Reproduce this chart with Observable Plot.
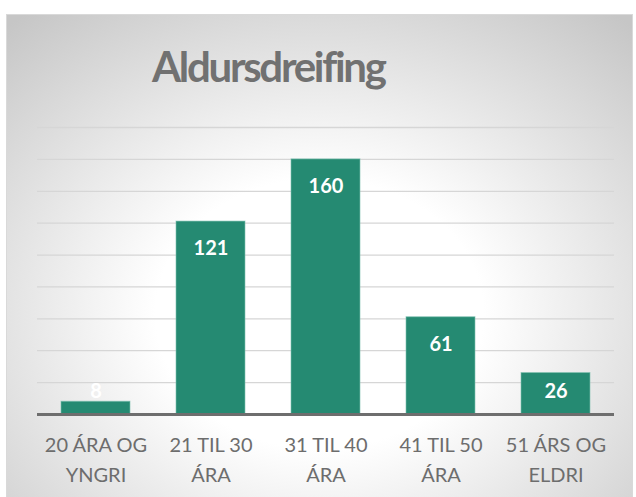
<!DOCTYPE html>
<html>
<head>
<meta charset="utf-8">
<script src="https://cdn.jsdelivr.net/npm/d3@7"></script>
<script src="https://cdn.jsdelivr.net/npm/@observablehq/plot@0.6"></script>
<style>
  html, body { margin: 0; padding: 0; background: #ffffff; }
  #frame {
    position: absolute; left: 6px; top: 14px; width: 625px; height: 482px;
    border: 1px solid #d9d9d9;
    background: radial-gradient(ellipse 75% 80% at 50% 62%, #ffffff 0%, #ffffff 35%, #c6c6c6 100%);
  }
  #wrap { position: absolute; left: 0; top: 0; width: 636px; height: 497px; }
  #title {
    height: 110px; width: 636px; text-align: left;
    font-family: Lato, sans-serif; font-weight: 700; font-size: 42px; color: #717171;
    line-height: 1; box-sizing: border-box; white-space: nowrap;
  }
  #title span { display: inline-block; margin-top: 45px; margin-left: 152px; letter-spacing: -2.3px; }
  svg { display: block; }
</style>
</head>
<body>
<div id="frame"></div>
<div id="wrap">
  <div id="title"><span>Aldursdreifing</span></div>
  <div id="chart"></div>
</div>
<script>
const categories = ["20 ÁRA OG YNGRI", "21 TIL 30 ÁRA", "31 TIL 40 ÁRA", "41 TIL 50 ÁRA", "51 ÁRS OG ELDRI"];
const tickLabels = ["20 ÁRA OG\nYNGRI", "21 TIL 30\nÁRA", "31 TIL 40\nÁRA", "41 TIL 50\nÁRA", "51 ÁRS OG\nELDRI"];
const values = [8, 121, 160, 61, 26];
const gridTicks = [20, 40, 60, 80, 100, 120, 140, 160, 180];

const data = categories.map((c, i) => ({category: c, value: values[i]}));
const labelOf = new Map(categories.map((c, i) => [c, tickLabels[i]]));

const chart = Plot.plot({
  width: 636,
  height: 387,
  marginTop: 17,
  marginBottom: 83,
  marginLeft: 37,
  marginRight: 22,
  style: {background: "transparent", fontFamily: "Lato, sans-serif", overflow: "visible"},
  x: {domain: categories, paddingInner: 0.4, paddingOuter: 0.2, label: null},
  y: {domain: [0, 180], axis: null},
  marks: [
    Plot.ruleY(gridTicks, {stroke: "#d6d6d6", strokeWidth: 1.3}),
    Plot.barY(data, {x: "category", y: "value", fill: "#258a72", stroke: "#7fc2b0", strokeWidth: 1, strokeOpacity: 0.6}),
    Plot.ruleY([0], {stroke: "#6e6e6e", strokeWidth: 3}),
    Plot.text(data, {
      x: "category",
      y: d => Math.max(d.value - 17, 14.5),
      text: d => String(d.value),
      fill: "white",
      fontWeight: 700,
      fontSize: 20,
      lineAnchor: "middle"
    }),
    Plot.axisX({
      tickSize: 0,
      tickPadding: 16,
      tickFormat: c => labelOf.get(c),
      fontSize: 20,
      lineHeight: 1.5,
      color: "#6d6d6d",
      fill: "#6d6d6d",
      label: null
    })
  ]
});
document.getElementById("chart").appendChild(chart);
</script>
</body>
</html>
